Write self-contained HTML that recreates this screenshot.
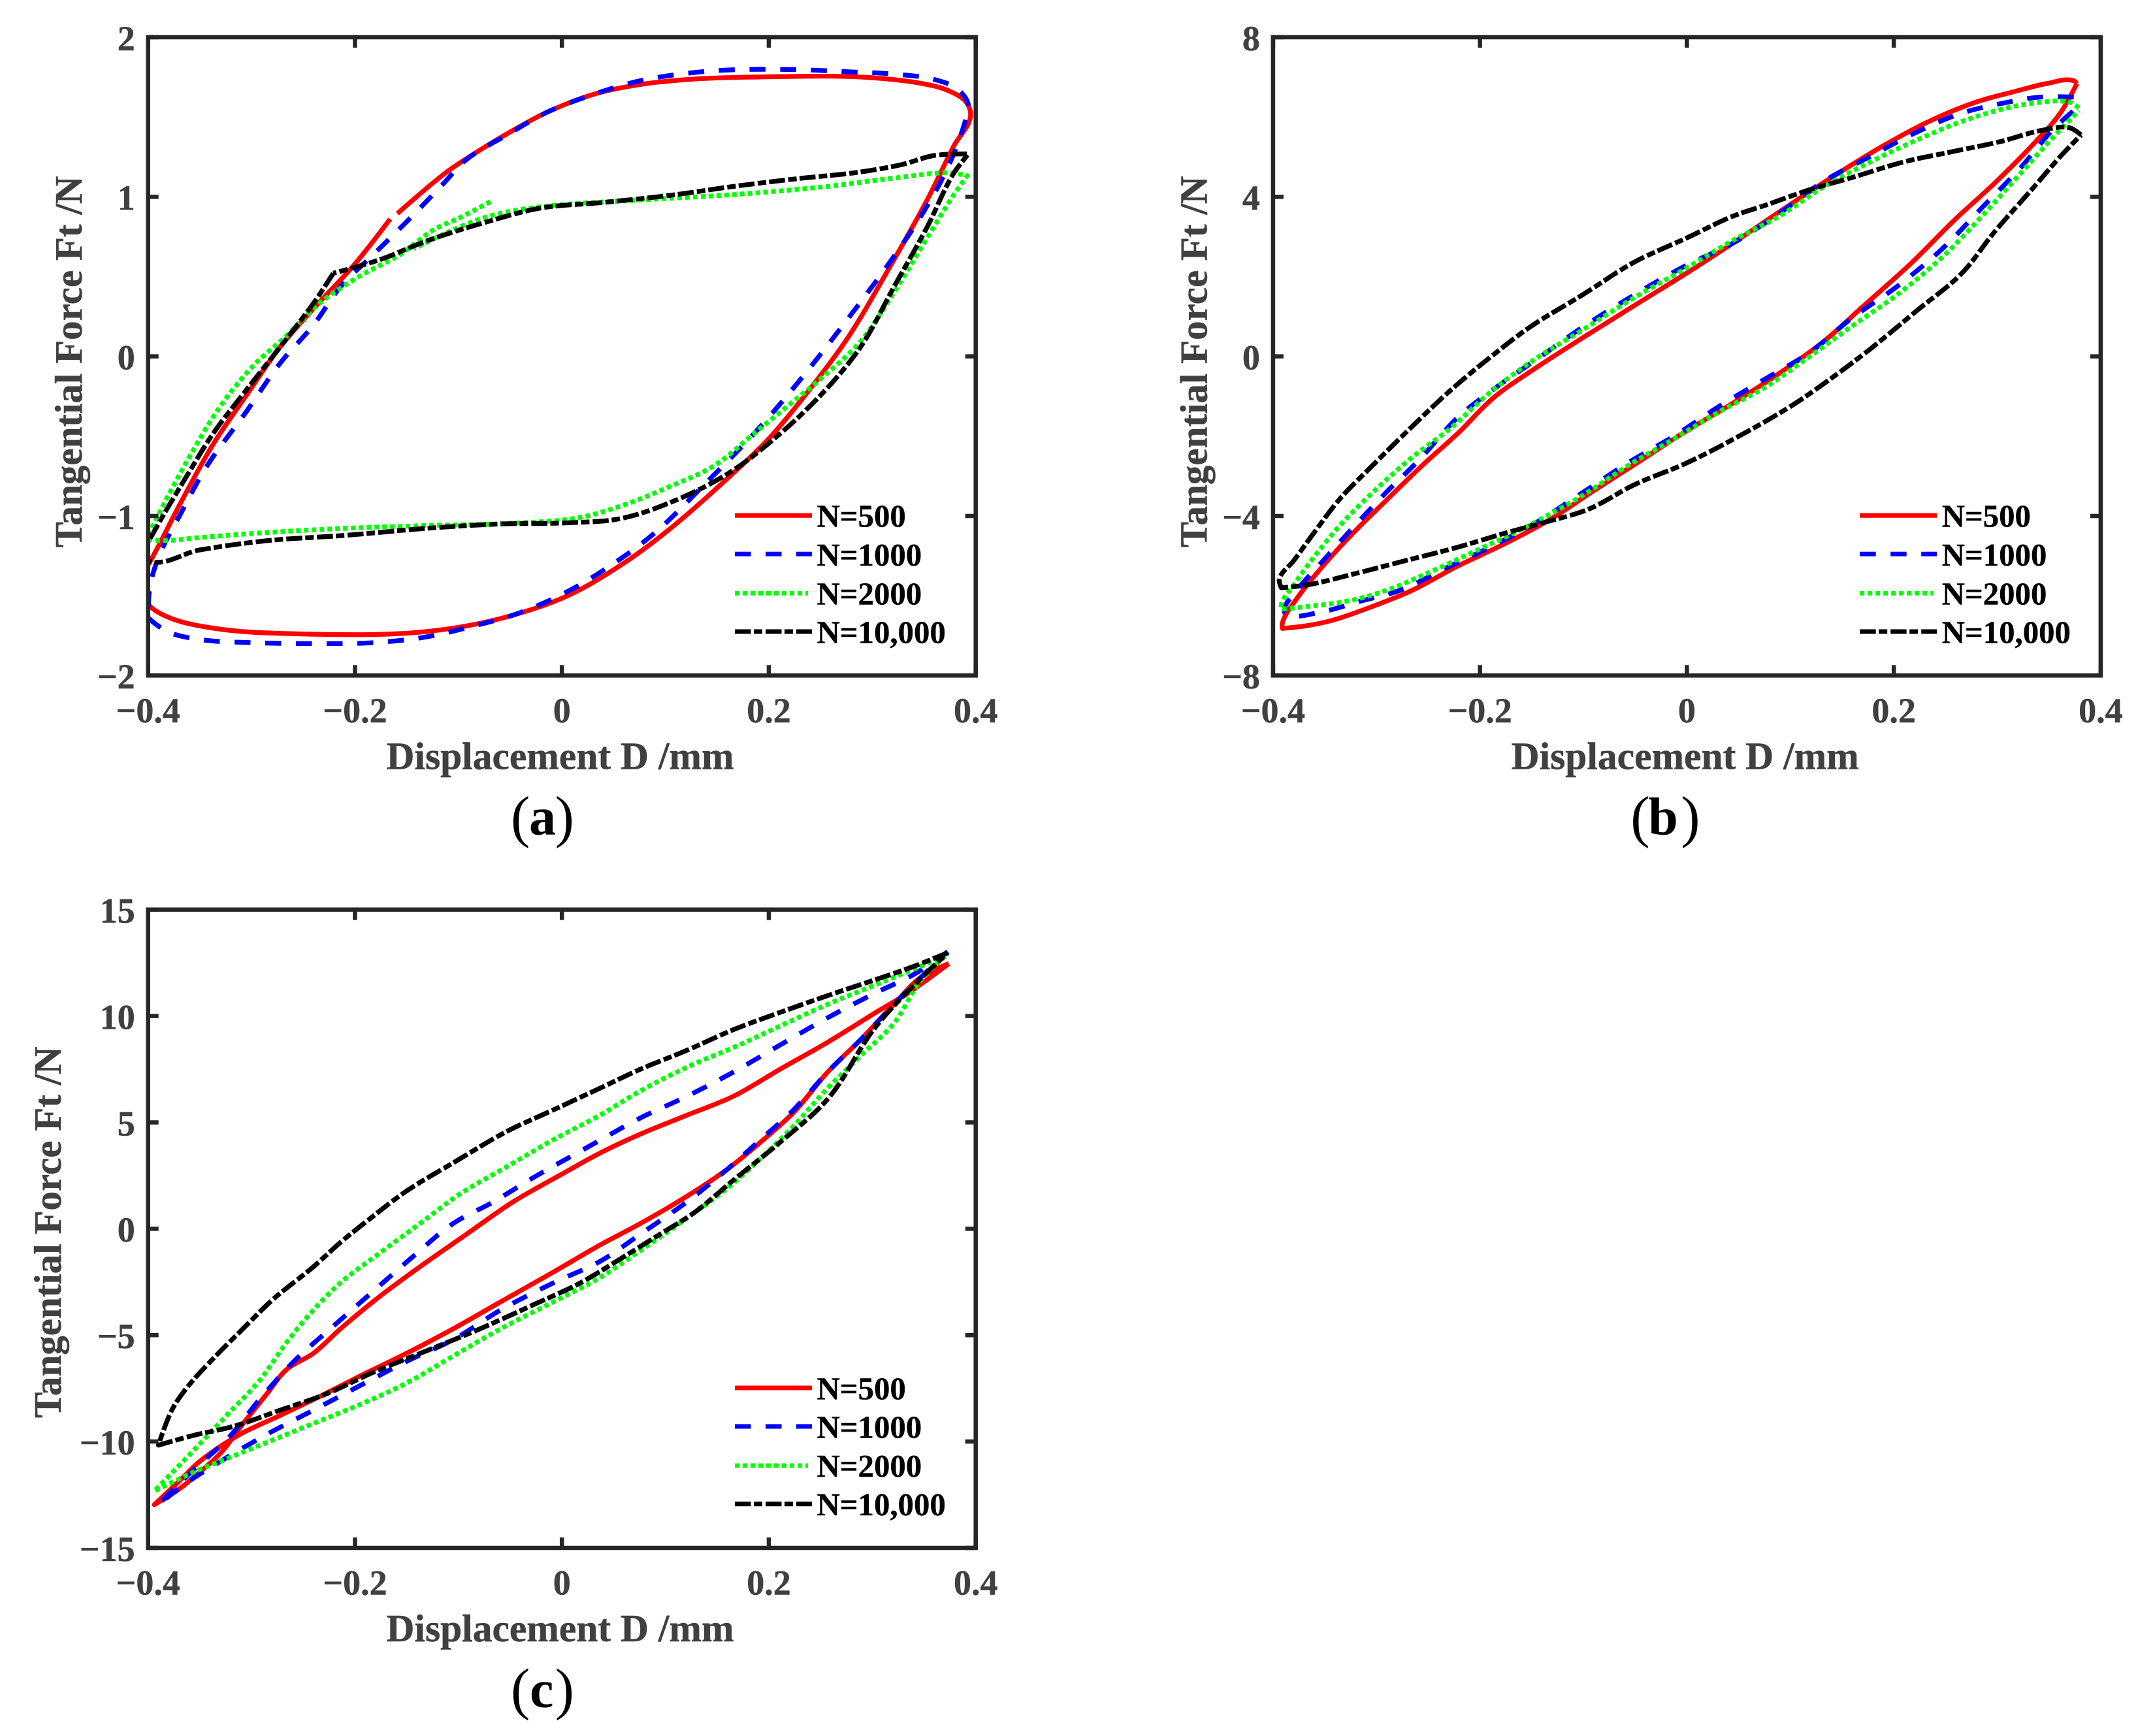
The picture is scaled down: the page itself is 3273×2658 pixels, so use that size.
<!DOCTYPE html>
<html lang="en">
<head>
<meta charset="utf-8">
<title>Tangential force vs displacement hysteresis loops</title>
<style>
html,body{margin:0;padding:0;background:#fff;}
svg{display:block;}
text{font-family:"Liberation Serif",serif;}
.tick{font-weight:bold;font-size:54px;fill:#404040;stroke:#404040;stroke-width:.5px;}
.title{font-weight:bold;font-size:59.5px;fill:#404040;stroke:#404040;stroke-width:.5px;}
.leg{font-weight:bold;font-size:48.8px;fill:#000;stroke:#000;stroke-width:.4px;}
.cap{font-size:88px;fill:#000;}
.cap tspan.l{font-weight:bold;font-size:82px;}
.s500{stroke:#f00;}
.s1000{stroke:#00f;stroke-dasharray:24.5 22.5;}
.s2000{stroke:#0f0;stroke-dasharray:7 5;}
.s10000{stroke:#000;stroke-dasharray:24.5 4.5 13 5;}
.lg{fill:none;stroke-width:7;}
</style>
</head>
<body>
<svg id="figure" xmlns="http://www.w3.org/2000/svg" width="3273" height="2658" viewBox="0 0 3273 2658">
<rect width="3273" height="2658" fill="#fff"/>
<defs>
<clipPath id="plot-clip"><rect x="226.7" y="57" width="1267" height="977.3"/></clipPath>
</defs>

<g id="panel-a" transform="translate(0,0)">
<text class="title" x="857.5" y="1177.5" text-anchor="middle">Displacement D /mm</text>
<text class="title" transform="translate(125,554) rotate(-90)" text-anchor="middle" style="font-size:59px">Tangential Force Ft /N</text>
<g>
<line class="lg s500" x1="1125" x2="1243" y1="789.3" y2="789.3"/>
<text class="leg" x="1250.5" y="806.7">N=500</text>
<line class="lg s1000" x1="1125" x2="1243" y1="848.3" y2="848.3"/>
<text class="leg" x="1250.5" y="866">N=1000</text>
<line class="lg s2000" x1="1125" x2="1237" y1="908.3" y2="908.3"/>
<text class="leg" x="1250.5" y="925.3">N=2000</text>
<line class="lg s10000" x1="1125" x2="1243" y1="967" y2="967"/>
<text class="leg" x="1250.5" y="984.3">N=10,000</text>
</g>
<text class="cap" y="1280"><tspan x="782">(</tspan><tspan class="l" x="810" y="1277.7">a</tspan><tspan x="849.6" y="1280">)</tspan></text>
</g>

<g id="panel-b" transform="translate(1722.2,0)">
<text class="title" x="857.5" y="1177.5" text-anchor="middle">Displacement D /mm</text>
<text class="title" transform="translate(125.5,554) rotate(-90)" text-anchor="middle" style="font-size:59px">Tangential Force Ft /N</text>
<g>
<line class="lg s500" x1="1125" x2="1243" y1="789.3" y2="789.3"/>
<text class="leg" x="1250.5" y="806.7">N=500</text>
<line class="lg s1000" x1="1125" x2="1243" y1="848.3" y2="848.3"/>
<text class="leg" x="1250.5" y="866">N=1000</text>
<line class="lg s2000" x1="1125" x2="1237" y1="908.3" y2="908.3"/>
<text class="leg" x="1250.5" y="925.3">N=2000</text>
<line class="lg s10000" x1="1125" x2="1243" y1="967" y2="967"/>
<text class="leg" x="1250.5" y="984.3">N=10,000</text>
</g>
<text class="cap" y="1280"><tspan x="774">(</tspan><tspan class="l" x="801" y="1277.7">b</tspan><tspan x="851" y="1280">)</tspan></text>
</g>

<g id="panel-c" transform="translate(0,1335.7)">
<text class="title" x="857.5" y="1177.5" text-anchor="middle">Displacement D /mm</text>
<text class="title" transform="translate(93,551) rotate(-90)" text-anchor="middle" style="font-size:59px">Tangential Force Ft /N</text>
<g>
<line class="lg s500" x1="1125" x2="1243" y1="789.3" y2="789.3"/>
<text class="leg" x="1250.5" y="806.7">N=500</text>
<line class="lg s1000" x1="1125" x2="1243" y1="848.3" y2="848.3"/>
<text class="leg" x="1250.5" y="866">N=1000</text>
<line class="lg s2000" x1="1125" x2="1237" y1="908.3" y2="908.3"/>
<text class="leg" x="1250.5" y="925.3">N=2000</text>
<line class="lg s10000" x1="1125" x2="1243" y1="967" y2="967"/>
<text class="leg" x="1250.5" y="984.3">N=10,000</text>
</g>
<text class="cap" y="1280"><tspan x="782">(</tspan><tspan class="l" x="811" y="1277.7">c</tspan><tspan x="849.6" y="1280">)</tspan></text>
</g>
</svg>

<script>
const xTicks = [-0.4, -0.2, 0, 0.2, 0.4];
const xTickLabels = ['\u22120.4', '\u22120.2', '0', '0.2', '0.4'];

const aYTicks = [-2, -1, 0, 1, 2];
const aYTickLabels = ['\u22122', '\u22121', '0', '1', '2'];
const bYTicks = [-8, -4, 0, 4, 8];
const bYTickLabels = ['\u22128', '\u22124', '0', '4', '8'];
const cYTicks = [-15, -10, -5, 0, 5, 10, 15];
const cYTickLabels = ['\u221215', '\u221210', '\u22125', '0', '5', '10', '15'];

/* Panel (a) */
const a500x = [-.166,-.201,-.240,-.272,-.305,-.337,-.369,-.400,-.412,-.400,-.392,-.372,-.334,-.305,-.266,-.221,-.182,-.140,-.092,-.047,.005,.057,.102,.163,.199,.240,.276,.315,.353,.379,.395,.391,.373,.347,.308,.270,.199,.128,.076,.031,-.014,-.053,-.085,-.111,-.159];
const a500y = [.861,.572,.300,.062,-.244,-.550,-.924,-1.308,-1.43,-1.553,-1.597,-1.655,-1.706,-1.726,-1.737,-1.743,-1.743,-1.730,-1.689,-1.621,-1.502,-1.308,-1.094,-.747,-.523,-.203,.113,.538,.980,1.320,1.507,1.592,1.667,1.711,1.742,1.755,1.752,1.738,1.704,1.643,1.531,1.395,1.269,1.157,.895];
const a1000x = [-.400,-.382,-.350,-.298,-.234,-.182,-.130,-.085,-.047,.005,.050,.089,.140,.186,.231,.276,.315,.347,.373,.389,.393,.382,.360,.321,.282,.231,.166,.128,.076,.031,-.014,-.053,-.092,-.117,-.150,-.182,-.214,-.240,-.272,-.305,-.343,-.369,-.388,-.398,-.400];
const a1000y = [-1.638,-1.723,-1.774,-1.794,-1.800,-1.794,-1.757,-1.689,-1.621,-1.475,-1.298,-1.110,-.788,-.482,-.142,.232,.572,.878,1.184,1.456,1.575,1.677,1.735,1.769,1.782,1.796,1.796,1.779,1.728,1.643,1.531,1.388,1.235,1.065,.844,.640,.436,.198,-.040,-.346,-.686,-.992,-1.230,-1.434,-1.638];
const a2000x = [-.069,-.098,-.124,-.156,-.195,-.234,-.266,-.298,-.330,-.356,-.382,-.400,-.405,-.385,-.350,-.285,-.208,-.130,-.053,.018,.063,.102,.147,.186,.218,.250,.289,.321,.353,.379,.392,.373,.328,.257,.166,.076,-.008,-.053,-.079,-.111,-.143];
const a2000y = [.970,.871,.793,.640,.504,.334,.130,-.057,-.312,-.584,-.890,-1.110,-1.145,-1.155,-1.135,-1.104,-1.077,-1.060,-1.047,-1.009,-.924,-.822,-.686,-.482,-.312,-.142,.096,.402,.742,1.014,1.133,1.150,1.123,1.065,1.014,.980,.946,.905,.861,.776,.674];
const a10000x = [-.221,-.240,-.272,-.305,-.337,-.363,-.385,-.400,-.406,-.400,-.350,-.285,-.208,-.130,-.059,.005,.057,.108,.160,.199,.250,.289,.321,.353,.379,.393,.360,.328,.282,.231,.166,.102,.037,-.021,-.072,-.130,-.176,-.221];
const a10000y = [.521,.334,.062,-.210,-.482,-.754,-.992,-1.162,-1.222,-1.280,-1.213,-1.155,-1.121,-1.077,-1.050,-1.043,-1.016,-.907,-.737,-.550,-.244,.062,.436,.810,1.150,1.269,1.259,1.201,1.150,1.116,1.065,1.007,.963,.929,.844,.725,.606,.521];

/* Panel (b) */
const b500x = [.377,.374,.348,.317,.279,.234,.190,.139,.095,.044,0,-.051,-.101,-.146,-.187,-.221,-.256,-.291,-.323,-.354,-.377,-.391,-.391,-.367,-.342,-.304,-.266,-.221,-.177,-.133,-.089,-.044,0,.044,.089,.133,.171,.215,.260,.297,.336,.361,.377];
const b500y = [6.84,6.91,6.84,6.64,6.37,5.89,5.28,4.47,3.72,2.83,2.09,1.27,.46,-.29,-1.04,-1.92,-2.74,-3.62,-4.44,-5.32,-6.07,-6.68,-6.82,-6.75,-6.61,-6.27,-5.87,-5.25,-4.71,-4.10,-3.35,-2.60,-1.86,-1.18,-.43,.39,1.27,2.29,3.45,4.33,5.35,6.10,6.84];
const b1000x = [.374,.342,.310,.266,.222,.177,.133,.089,.044,0,-.051,-.101,-.146,-.184,-.221,-.259,-.291,-.323,-.354,-.377,-.389,-.386,-.354,-.316,-.278,-.234,-.190,-.146,-.101,-.057,-.012,.032,.076,.120,.158,.203,.247,.285,.323,.354,.377];
const b1000y = [6.50,6.50,6.37,6.10,5.62,5.01,4.40,3.58,2.83,2.29,1.54,.73,-.09,-.77,-1.52,-2.60,-3.42,-4.30,-5.19,-5.87,-6.41,-6.48,-6.41,-6.14,-5.87,-5.32,-4.78,-4.17,-3.42,-2.67,-1.99,-1.24,-.56,.12,.93,1.75,2.70,3.72,4.74,5.69,6.23];
const b2000x = [.379,.370,.342,.310,.266,.222,.177,.133,.089,.044,0,-.051,-.101,-.152,-.190,-.228,-.266,-.304,-.335,-.361,-.380,-.392,-.392,-.367,-.329,-.291,-.247,-.202,-.152,-.101,-.057,-.012,.032,.076,.114,.158,.203,.247,.285,.323,.354,.379];
const b2000y = [6.23,6.37,6.37,6.23,5.89,5.42,4.87,4.26,3.51,2.90,2.22,1.47,.66,-.16,-.90,-1.79,-2.54,-3.42,-4.23,-5.05,-5.73,-6.21,-6.34,-6.27,-6.14,-5.87,-5.39,-4.85,-4.23,-3.49,-2.74,-2.06,-1.38,-.77,-.09,.73,1.54,2.49,3.51,4.60,5.49,6.16];
const b10000x = [.381,.370,.342,.304,.260,.209,.158,.120,.076,.044,0,-.051,-.101,-.152,-.190,-.228,-.272,-.304,-.335,-.361,-.380,-.394,-.392,-.367,-.323,-.272,-.221,-.177,-.139,-.095,-.051,0,.051,.101,.139,.177,.222,.266,.297,.336,.361,.381];
const b10000y = [5.55,5.73,5.66,5.39,5.15,4.87,4.47,4.19,3.79,3.51,2.97,2.36,1.54,.73,-.02,-.84,-1.92,-2.74,-3.56,-4.44,-5.12,-5.59,-5.80,-5.73,-5.46,-5.12,-4.78,-4.44,-4.17,-3.83,-3.22,-2.67,-1.99,-1.24,-.56,.18,1.14,2.09,3.11,4.26,5.01,5.55];

/* Panel (c) */
const c500x = [.374,.334,.308,.257,.211,.166,.121,.076,.037,-.001,-.047,-.092,-.137,-.176,-.214,-.240,-.266,-.285,-.308,-.330,-.350,-.369,-.394,-.369,-.350,-.311,-.272,-.234,-.195,-.150,-.105,-.059,-.008,.037,.076,.121,.160,.192,.224,.257,.289,.321,.347,.374];
const c500y = [12.46,11.06,10.30,8.77,7.50,6.23,5.34,4.45,3.56,2.54,1.27,-.25,-1.78,-3.18,-4.70,-5.85,-6.61,-7.75,-9.15,-10.55,-11.44,-12.20,-12.97,-11.82,-10.93,-9.66,-8.77,-7.88,-6.92,-5.85,-4.70,-3.43,-2.03,-.76,.25,1.53,2.80,4.07,5.47,7.37,8.90,10.55,11.82,12.46];
const c1000x = [.373,.340,.302,.257,.211,.166,.121,.076,.024,-.027,-.066,-.105,-.143,-.182,-.221,-.259,-.292,-.324,-.350,-.372,-.390,-.363,-.330,-.285,-.240,-.195,-.150,-.105,-.059,-.008,.037,.076,.121,.160,.192,.224,.257,.289,.321,.347,.373];
const c1000y = [13.02,11.95,11.06,9.92,8.64,7.37,6.23,5.21,3.81,2.42,1.27,.25,-1.27,-2.92,-4.58,-6.23,-8.01,-9.92,-11.06,-12.08,-12.97,-11.95,-10.93,-9.66,-8.52,-7.37,-6.23,-5.21,-3.81,-2.54,-1.53,-.25,1.27,2.80,4.19,5.59,7.37,8.90,10.55,11.82,13.02];
const c2000x = [.371,.340,.302,.257,.211,.166,.128,.076,.037,-.008,-.053,-.098,-.137,-.176,-.214,-.240,-.266,-.292,-.324,-.356,-.394,-.356,-.324,-.285,-.240,-.195,-.150,-.105,-.059,-.008,.037,.076,.121,.160,.192,.224,.257,.289,.321,.347,.371];
const c2000y = [12.84,12.20,11.44,10.55,9.53,8.52,7.75,6.48,5.34,4.19,2.92,1.65,.25,-1.14,-2.54,-3.81,-5.34,-7.12,-8.77,-10.42,-12.33,-11.44,-10.81,-10.04,-9.15,-8.26,-7.25,-5.98,-4.70,-3.43,-2.29,-1.02,.51,1.91,3.30,4.83,6.61,8.14,9.66,11.69,12.84];
const c10000x = [.373,.340,.302,.263,.211,.166,.121,.076,.037,-.008,-.053,-.105,-.150,-.188,-.214,-.240,-.279,-.311,-.337,-.363,-.377,-.390,-.356,-.317,-.272,-.227,-.182,-.130,-.079,-.027,.018,.057,.095,.128,.166,.211,.257,.302,.340,.373];
const c10000y = [12.97,12.33,11.69,11.06,10.17,9.36,8.39,7.50,6.61,5.59,4.58,3.10,1.78,.38,-.64,-1.78,-3.31,-4.83,-6.10,-7.50,-8.52,-10.17,-9.71,-9.28,-8.52,-7.75,-6.74,-5.72,-4.70,-3.56,-2.54,-1.40,-.25,.76,2.29,4.07,6.10,9.41,11.44,12.97];

const seriesKeys = ['500', '1000', '2000', '10000'];

const NS = 'http://www.w3.org/2000/svg';
const plotLeft = 226.7, plotRight = 1493.7, plotTop = 57, plotBottom = 1034.3;
const axisColor = '#262626';
const axisWeight = 6.5;

function scaleX(v) {
  return plotLeft + (v - xTicks[0]) / (xTicks[xTicks.length - 1] - xTicks[0]) * (plotRight - plotLeft);
}
function scaleY(v, ticks) {
  const lo = ticks[0], hi = ticks[ticks.length - 1];
  return plotTop + (hi - v) / (hi - lo) * (plotBottom - plotTop);
}
/* Smooth curve through the scaled points; sharp reversals keep a corner. */
function smoothPath(pts) {
  const n = pts.length;
  const tan = pts.map(function (p, i) {
    if (i === 0 || i === n - 1) return [0, 0];
    const a = pts[i - 1], b = pts[i + 1];
    const ax = p[0] - a[0], ay = p[1] - a[1], bx = b[0] - p[0], by = b[1] - p[1];
    const la = Math.hypot(ax, ay) || 1, lb = Math.hypot(bx, by) || 1;
    if ((ax * bx + ay * by) / (la * lb) < 0.2) return [0, 0];
    const tx = ax / la + bx / lb, ty = ay / la + by / lb;
    const lt = Math.hypot(tx, ty) || 1;
    return [tx / lt, ty / lt];
  });
  let d = 'M' + pts[0][0].toFixed(1) + ' ' + pts[0][1].toFixed(1);
  for (let i = 0; i < n - 1; i++) {
    const p = pts[i], q = pts[i + 1];
    const s = Math.hypot(q[0] - p[0], q[1] - p[1]) / 3;
    d += 'C' + (p[0] + tan[i][0] * s).toFixed(1) + ' ' + (p[1] + tan[i][1] * s).toFixed(1) + ' ' +
      (q[0] - tan[i + 1][0] * s).toFixed(1) + ' ' + (q[1] - tan[i + 1][1] * s).toFixed(1) + ' ' +
      q[0].toFixed(1) + ' ' + q[1].toFixed(1);
  }
  return d;
}
function tickLine(parent, x1, y1, x2, y2) {
  const el = document.createElementNS(NS, 'line');
  el.setAttribute('x1', x1);
  el.setAttribute('y1', y1);
  el.setAttribute('x2', x2);
  el.setAttribute('y2', y2);
  el.setAttribute('stroke', axisColor);
  el.setAttribute('stroke-width', axisWeight);
  
  
  parent.appendChild(el);
}
function tickText(parent, x, y, anchor, str) {
  const el = document.createElementNS(NS, 'text');
  el.setAttribute('class', 'tick');
  el.setAttribute('x', x);
  el.setAttribute('y', y);
  el.setAttribute('text-anchor', anchor);
  
  
  el.textContent = str;
  parent.appendChild(el);
}
function drawPanel(id, yTicks, yLabels, data) {
  const g = document.getElementById(id);
  const clip = document.createElementNS(NS, 'g');
  clip.setAttribute('clip-path', 'url(#plot-clip)');
  
  
  g.insertBefore(clip, g.firstChild);
  seriesKeys.forEach(function (key, i) {
    const xs = data[i][0], ys = data[i][1];
    const pts = xs.map(function (x, k) {
      return [scaleX(x), scaleY(ys[k], yTicks)];
    });
    const line = document.createElementNS(NS, 'path');
    line.setAttribute('d', smoothPath(pts));
    line.setAttribute('class', 's' + key);
    line.setAttribute('fill', 'none');
    line.setAttribute('stroke-width', '7.3');
    line.setAttribute('stroke-linejoin', 'round');
    
    
    clip.appendChild(line);
  });
  const frame = document.createElementNS(NS, 'rect');
  frame.setAttribute('x', plotLeft);
  frame.setAttribute('y', plotTop);
  frame.setAttribute('width', plotRight - plotLeft);
  frame.setAttribute('height', plotBottom - plotTop);
  frame.setAttribute('fill', 'none');
  frame.setAttribute('stroke', axisColor);
  frame.setAttribute('stroke-width', axisWeight);
  
  
  g.appendChild(frame);
  xTicks.forEach(function (v, i) {
    const x = scaleX(v);
    tickLine(g, x, plotBottom, x, plotBottom - 16);
    tickLine(g, x, plotTop, x, plotTop + 16);
    tickText(g, x, plotBottom + 71.6, 'middle', xTickLabels[i]);
  });
  yTicks.forEach(function (v, i) {
    const y = scaleY(v, yTicks);
    tickLine(g, plotLeft, y, plotLeft + 16, y);
    tickLine(g, plotRight, y, plotRight - 16, y);
    tickText(g, plotLeft - 20, y + 19.8, 'end', yLabels[i]);
  });
}
drawPanel('panel-a', aYTicks, aYTickLabels, [[a500x, a500y], [a1000x, a1000y], [a2000x, a2000y], [a10000x, a10000y]]);
drawPanel('panel-b', bYTicks, bYTickLabels, [[b500x, b500y], [b1000x, b1000y], [b2000x, b2000y], [b10000x, b10000y]]);
drawPanel('panel-c', cYTicks, cYTickLabels, [[c500x, c500y], [c1000x, c1000y], [c2000x, c2000y], [c10000x, c10000y]]);
</script>
</body>
</html>
